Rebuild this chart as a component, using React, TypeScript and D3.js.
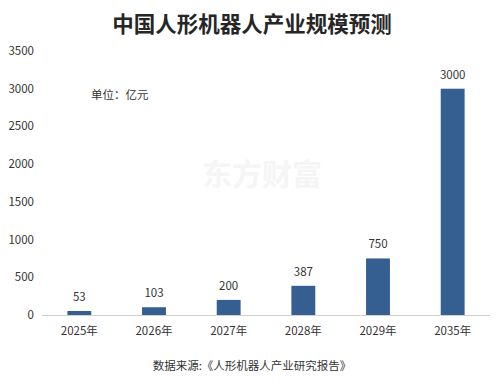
import React from "react";
import * as d3 from "d3";

const categories = ["2025年", "2026年", "2027年", "2028年", "2029年", "2035年"];
const values = [53, 103, 200, 387, 750, 3000];
const yTicks = [0, 500, 1000, 1500, 2000, 2500, 3000, 3500];
const title = "中国人形机器人产业规模预测";
const unitLabel = "单位：亿元";
const sourceLabel = "数据来源:《人形机器人产业研究报告》";
const watermark = "东方财富";

const W = 504;
const H = 383;
const margin = { left: 42, right: 14, top: 51, bottom: 68 };
const font = "'Noto Sans CJK SC', 'Microsoft YaHei', sans-serif";

export default function App() {
  const x = d3
    .scaleBand<string>()
    .domain(categories)
    .range([margin.left, W - margin.right])
    .paddingInner(0.68)
    .paddingOuter(0.34);
  const y = d3.scaleLinear().domain([0, 3500]).range([H - margin.bottom, margin.top]);
  const y0 = y(0);
  return (
    <svg
      width={W}
      height={H}
      style={{ position: "absolute", left: 0, top: 0, background: "#fff" }}
      fontFamily={font}
    >
      <rect x={0} y={0} width={W} height={H} fill="#fff" />
      <text x={252} y={32} textAnchor="middle" fontSize={21.5} fontWeight={700} fill="#262626">
        {title}
      </text>
      <text x={262} y={185} textAnchor="middle" fontSize={30} fontWeight={700} fill="#f5f5f5">
        {watermark}
      </text>
      {yTicks.map((t) => (
        <text key={t} x={34} y={y(t)} dy="0.35em" textAnchor="end" fontSize={11.5} fill="#333">
          {t}
        </text>
      ))}
      <line x1={margin.left} x2={W - margin.right} y1={y0 + 0.5} y2={y0 + 0.5} stroke="#d0d0d0" />
      {categories.map((c, i) => {
        const bx = x(c)!;
        const by = y(values[i]);
        return (
          <g key={c}>
            <rect x={bx} y={by} width={x.bandwidth()} height={y0 - by} fill="#365f91" />
            <text x={bx + x.bandwidth() / 2} y={by - 10} textAnchor="middle" fontSize={11.5} fill="#333">
              {values[i]}
            </text>
            <text x={bx + x.bandwidth() / 2} y={y0 + 16} dy="0.35em" textAnchor="middle" fontSize={11.5} fill="#333">
              {c}
            </text>
          </g>
        );
      })}
      <text x={91} y={95} dy="0.35em" fontSize={11.5} fill="#333">
        {unitLabel}
      </text>
      <text x={252} y={366} dy="0.35em" textAnchor="middle" fontSize={11.5} fill="#333">
        {sourceLabel}
      </text>
    </svg>
  );
}
